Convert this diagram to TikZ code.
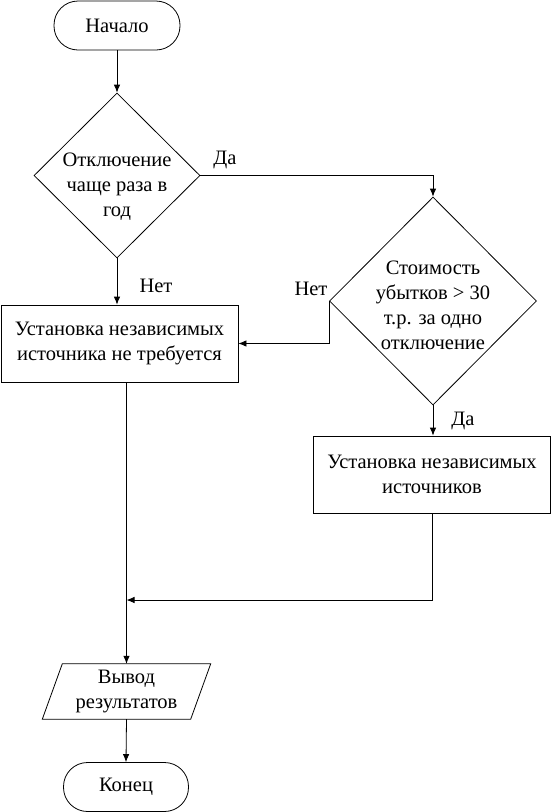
\documentclass[tikz,border=0pt]{standalone}
\usepackage{fontspec}
\setmainfont{Liberation Serif}
\usetikzlibrary{arrows.meta,shapes.geometric}
\begin{document}
\begin{tikzpicture}[x=1pt,y=-1pt,
  every node/.style={font=\fontsize{20.5}{25}\selectfont},
  line/.style={line width=0.8pt},
  arr/.style={line, -{Latex[length=8pt,width=6.5pt]}},
  term/.style={draw, line width=0.8pt, rectangle, rounded corners=24pt, minimum width=126pt, minimum height=49pt, inner sep=0pt},
  dec/.style={draw, line width=0.8pt, diamond, inner sep=0pt},
  proc/.style={draw, line width=0.8pt, rectangle, minimum width=237pt, minimum height=77pt, inner sep=0pt, align=center},
  txt/.style={align=center, inner sep=0pt},
  lbl/.style={inner sep=0pt}]
\useasboundingbox (0,0) rectangle (551,812);

\node[term] (start) at (117,25.5) {Начало};
\node[dec, minimum width=166pt, minimum height=165pt] (d1) at (117,175.5) {};
\node[txt] (d1t) at (117,187) {Отключение\\чаще раза в\\год};
\node[proc] (box1) at (119.5,343.5) {Установка независимых\\источника не требуется};
\node[dec, minimum width=207pt, minimum height=208pt] (d2) at (433,301) {};
\node[txt] (d2t) at (433,305) {Стоимость\\убытков > 30\\т.р. за одно\\отключение};
\node[proc] (box2) at (432,474.5) {Установка независимых\\источников};
\node[txt, minimum width=148pt, minimum height=55pt] (out) at (126.5,691.5) {Вывод\\результатов};
\draw[line] ([xshift=10pt]out.north west) -- ([xshift=10pt]out.north east)
  -- ([xshift=-10pt]out.south east) -- ([xshift=-10pt]out.south west) -- cycle;
\node[term, minimum width=125pt] (end) at (126,787) {Конец};

\node[lbl] (l1) at (225,160) {Да};
\node[lbl] (l2) at (156,286) {Нет};
\node[lbl] (l3) at (311,289) {Нет};
\node[lbl] (l4) at (463,421) {Да};

\coordinate (j) at (126.5,600);
\draw[arr] (start.south) -- (d1.north);
\draw[arr] (d1.east) -| (d2.north);
\draw[arr] (d1.south) -- (d1.south |- box1.north);
\draw[arr] (d2.west) |- (box1.east);
\draw[arr] (d2.south) -- (d2.south |- box2.north);
\draw[arr] (out.north |- box1.south) -- (out.north);
\draw[arr] (box2.south) |- (j);
\draw[arr] (out.south) -- (end.north);
\end{tikzpicture}
\end{document}
